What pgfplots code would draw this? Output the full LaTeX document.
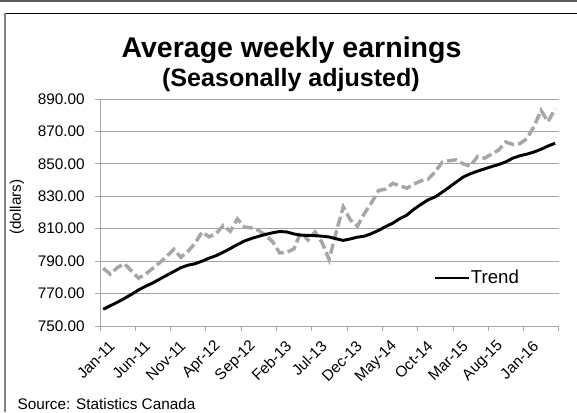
\documentclass[border=0pt]{standalone}
\usepackage{fontspec}
\setmainfont{Liberation Sans}
\usepackage{pgfplots}
\pgfplotsset{compat=1.18}
\usepackage{pgfplotstable}

\definecolor{actgray}{HTML}{A6A6A6}
\definecolor{gridgray}{HTML}{A6A6A6}

% month index 0 = Jan-11
\pgfplotstableread{
m v
0 785.6
1 782.0
2 786.0
3 788.5
4 784.0
5 779.5
6 782.0
7 785.5
8 789.0
9 793.0
10 797.3
11 792.4
12 796.0
13 801.0
14 808.0
15 805.0
16 807.0
17 812.0
18 808.5
19 816.0
20 811.0
21 810.5
22 809.0
23 806.0
24 802.0
25 795.0
26 795.5
27 797.5
28 808.0
29 803.0
30 808.0
31 801.5
32 791.0
33 808.0
34 823.5
35 815.5
36 811.5
37 819.5
38 826.0
39 833.5
40 834.5
41 838.0
42 836.5
43 835.0
44 837.5
45 839.5
46 840.5
47 845.0
48 851.0
49 852.0
50 852.5
51 850.0
52 848.5
53 854.5
54 853.5
55 856.0
56 858.5
57 863.5
58 862.0
59 862.5
60 865.5
61 873.0
62 883.0
63 876.0
64 884.0
}\actualdata

\pgfplotstableread{
m v
0 760.3
1 762.5
2 764.6
3 767.0
4 769.5
5 772.2
6 774.5
7 776.5
8 778.9
9 781.3
10 783.6
11 786.0
12 787.5
13 788.4
14 790.0
15 791.8
16 793.4
17 795.5
18 797.8
19 800.2
20 802.4
21 804.0
22 805.3
23 806.5
24 807.5
25 808.3
26 808.0
27 806.8
28 806.0
29 805.9
30 805.7
31 805.4
32 804.9
33 803.8
34 802.8
35 803.7
36 804.8
37 805.4
38 807.0
39 809.0
40 811.3
41 813.4
42 816.2
43 818.4
44 822.0
45 825.0
46 827.8
47 829.6
48 832.5
49 835.6
50 838.8
51 841.9
52 843.9
53 845.5
54 846.9
55 848.3
56 849.6
57 851.2
58 853.5
59 855.0
60 856.0
61 857.3
62 859.0
63 861.0
64 862.7
}\trenddata

\begin{document}
\begin{tikzpicture}
\path[use as bounding box] (0,0) rectangle (432.75pt,309pt);
% frame and texts, in pixel units from the top left corner
\begin{scope}[x=0.75pt,y=-0.75pt,yshift=309pt]
  \fill[black!65] (0,0) rectangle (577,2);
  \draw[black, line width=0.75pt] (4,13.5) -- (577,13.5);
  \draw[black!50, line width=1.5pt] (5,13) -- (5,412);
  \node[font=\fontsize{21.4}{24}\selectfont\bfseries, anchor=base, inner sep=0pt]
    at (291.5,57.5) {Average weekly earnings};
  \node[font=\fontsize{18.8}{22}\selectfont\bfseries, anchor=base, inner sep=0pt]
    at (291,86.4) {(Seasonally adjusted)};
  \node[font=\fontsize{11.5}{13}\selectfont, anchor=base west, inner sep=0pt]
    at (17.3,409) {Source: Statistics Canada};
  \node[font=\fontsize{11.5}{13}\selectfont, rotate=90, inner sep=0pt]
    at (17,207) {(dollars)};
\end{scope}

\begin{axis}[
  at={(75pt,64.5pt)}, anchor=south west,
  scale only axis, width=344.25pt, height=170.25pt,
  xmin=-0.45, xmax=64.55, ymin=750, ymax=890,
  axis x line=bottom, axis y line=left,
  axis line style={-, gridgray, line width=0.75pt},
  tick align=outside, major tick length=3.75pt,
  tick style={gridgray, line width=0.75pt},
  ymajorgrids, grid style={gridgray, line width=0.75pt},
  ytick={750,770,...,890},
  xtick={-0.45,4.55,9.55,14.55,19.55,24.55,29.55,34.55,39.55,44.55,49.55,54.55,59.55,64.55},
  xticklabels={Jan-11,Jun-11,Nov-11,Apr-12,Sep-12,Feb-13,Jul-13,Dec-13,May-14,Oct-14,Mar-15,Aug-15,Jan-16,{}},
  every tick label/.append style={font=\fontsize{11.5}{13}\selectfont},
  /pgf/number format/assume math mode=true,
  yticklabel style={/pgf/number format/fixed, /pgf/number format/fixed zerofill,
    /pgf/number format/precision=2, /pgf/number format/1000 sep={}},
  yticklabel style={anchor=east, inner sep=0pt, xshift=-7.5pt},
  xticklabel style={rotate=45, anchor=east, inner sep=0pt, xshift=0pt, yshift=-13pt},
  legend style={at={(0.7255,0.2115)}, anchor=west, draw=none, fill=none,
    inner sep=0pt, nodes={inner sep=0.5pt}, font=\fontsize{14}{16}\selectfont},
  legend image code/.code={\draw[#1] (0pt,0pt) -- (25.5pt,0pt);},
]
\addplot[actgray, line width=2.6pt, dash pattern=on 7.5pt off 3pt, forget plot]
  table[x=m, y=v] {\actualdata};
\addplot[black, line width=2.2pt] table[x=m, y=v] {\trenddata};
\legend{Trend}
\end{axis}
\end{tikzpicture}
\end{document}
